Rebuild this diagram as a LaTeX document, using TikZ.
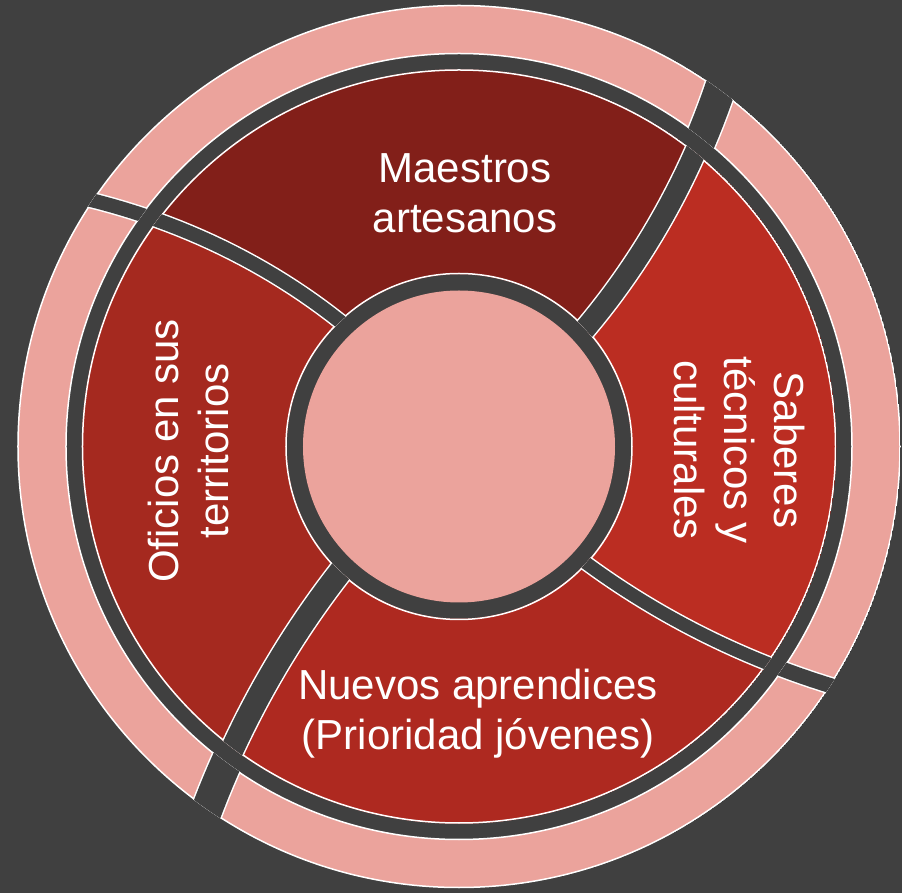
\documentclass[tikz,border=0pt]{standalone}
\usepackage{fontspec}
\setmainfont{Liberation Sans}
\usepackage{tikz}
\usetikzlibrary{positioning}
\definecolor{bgdark}{HTML}{404040}
\definecolor{ringpink}{HTML}{EBA39C}
\definecolor{maestrosred}{HTML}{821F19}
\definecolor{saberesred}{HTML}{BB2D22}
\definecolor{nuevosred}{HTML}{AE2920}
\definecolor{oficiosred}{HTML}{A5291F}

\begin{document}
\begin{tikzpicture}
  [x=1pt,y=1pt,
   rim/.style={draw=white,line width=1.5pt},
   gapedge/.style={white,line width={#1 pt+3pt}},
   gapfill/.style={bgdark,line width={#1 pt}},
   blocktext/.style={text=white,font=\fontsize{42}{50}\selectfont,align=center}]
  % background
  \fill[bgdark] (-459,-446.5) rectangle (443,446.5);
  \useasboundingbox (-459,-446.5) rectangle (443,446.5);
  % centre disc
  \fill[ringpink] (0,0) circle[radius=156];
  % coloured blocks
  \begin{scope}[even odd rule]
    \clip (0,0) circle[radius=377.25] (0,0) circle[radius=172.25];
    \foreach \sa/\ea/\sb/\eb/\col in {133.2/146.1/42.7/53.8/maestrosred,
        42.7/53.8/-42.8/-32.8/saberesred, -42.8/-32.8/-133.7/-124.8/nuevosred,
        226.3/235.2/133.2/146.1/oficiosred}
      \fill[\col] plot[domain=150:480,samples=30] ({(\sa)+((\ea)-(\sa))*(\x-165)/276}:\x)
        -- ({((\ea)+(\eb))/2}:800)
        -- plot[domain=480:150,samples=30] ({(\sb)+((\eb)-(\sb))*(\x-165)/276}:\x) -- cycle;
    \draw[rim] (0,0) circle[radius=376.5] (0,0) circle[radius=173];
    \foreach \s/\e/\w in {133.2/146.1/14, 42.7/53.8/21, -42.8/-32.8/13, 226.3/235.2/23}{
      \draw[gapedge=\w] plot[domain=150:480,samples=30] ({(\s)+((\e)-(\s))*(\x-165)/276}:\x);
      \draw[gapfill=\w] plot[domain=150:480,samples=30] ({(\s)+((\e)-(\s))*(\x-165)/276}:\x);
    }
  \end{scope}
  % outer ring
  \begin{scope}[even odd rule]
    \clip (0,0) circle[radius=441.75] (0,0) circle[radius=392.25];
    \fill[ringpink] (0,0) circle[radius=441] (0,0) circle[radius=393];
    \draw[rim] (0,0) circle[radius=441] (0,0) circle[radius=393];
    \foreach \s/\e/\w in {133.2/146.1/14, 42.7/53.8/31, -42.8/-32.8/15, 226.3/235.2/31}{
      \draw[gapedge=\w] plot[domain=150:480,samples=30] ({(\s)+((\e)-(\s))*(\x-165)/276}:\x);
      \draw[gapfill=\w] plot[domain=150:480,samples=30] ({(\s)+((\e)-(\s))*(\x-165)/276}:\x);
    }
  \end{scope}
  % place labels
  \node[blocktext] (maestros) at (6,253.5) {Maestros\\artesanos};
  \node[blocktext,rotate=-90] (saberes) at (281,-3.5) {Saberes\\técnicos y\\culturales};
  \node[blocktext] (nuevos) at (19,-267) {Nuevos aprendices\\(Prioridad jóvenes)};
  \node[blocktext,rotate=90] (oficios) at (-270.5,-4.5) {Oficios en sus\\territorios};
\end{tikzpicture}
\end{document}
